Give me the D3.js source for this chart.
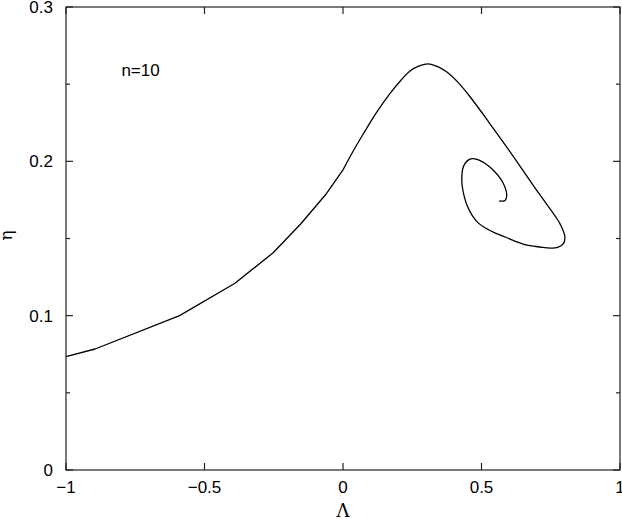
<!DOCTYPE html>
<html>
<head>
<meta charset="utf-8">
<script src="https://cdn.jsdelivr.net/npm/d3@7"></script>
<style>
  body { margin: 0; background: #fff; }
  .tick-label { font-family: "Liberation Sans", Arial, sans-serif; font-size: 17px; fill: #000; }
  .frame { fill: none; stroke: #222; stroke-width: 1.2; }
  .tk { stroke: #222; stroke-width: 1.2; }
</style>
</head>
<body>
<div id="chart"></div>
<script>
// curve values
var lambda = [-1, -0.895, -0.59, -0.39, -0.252, -0.153, -0.06, 0.0,
              0.036, 0.073, 0.12, 0.170, 0.21, 0.242, 0.275, 0.308, 0.34, 0.374, 0.416, 0.458,
              0.530, 0.602, 0.708, 0.768, 0.785, 0.801, 0.795, 0.775, 0.75, 0.72, 0.69, 0.66,
              0.625, 0.588, 0.55, 0.516, 0.49, 0.468, 0.45, 0.438, 0.430, 0.429, 0.432, 0.44,
              0.452, 0.466, 0.48, 0.495, 0.512, 0.528, 0.546, 0.564, 0.578, 0.588, 0.591,
              0.586, 0.576, 0.564];
var eta = [0.0735, 0.0784, 0.1000, 0.1210, 0.1408, 0.1594, 0.1790, 0.1945,
           0.2064, 0.2177, 0.2314, 0.244, 0.2527, 0.2585, 0.2618, 0.2632, 0.2615, 0.258, 0.251, 0.242,
           0.2245, 0.2065, 0.179, 0.164, 0.159, 0.151, 0.1465, 0.1442, 0.1438, 0.1442, 0.1450, 0.1459,
           0.1480, 0.1508, 0.1535, 0.1566, 0.1598, 0.1645, 0.1705, 0.177, 0.1845, 0.190, 0.1950, 0.1985,
           0.2008, 0.2017, 0.2015, 0.2005, 0.1988, 0.1966, 0.1936, 0.190, 0.186, 0.1815, 0.1775,
           0.1748, 0.1742, 0.1743];
var nKinked = 8; // first points joined by straight segments

var xTicks = [-1, -0.5, 0, 0.5, 1];
var xTickLabels = ["\u22121", "\u22120.5", "0", "0.5", "1"];
var yTicks = [0, 0.05, 0.1, 0.15, 0.2, 0.25, 0.3];
var yTickLabels = ["0", "", "0.1", "", "0.2", "", "0.3"];

var margin = {top: 7, right: 2, bottom: 49, left: 66},
    width = 622 - margin.left - margin.right,
    height = 519 - margin.top - margin.bottom;

var svg = d3.select("#chart")
  .append("svg")
    .attr("width", 622)
    .attr("height", 519)
  .append("g")
    .attr("transform", "translate(" + margin.left + "," + margin.top + ")");

var x = d3.scaleLinear().domain([-1, 1]).range([0, width]);
var y = d3.scaleLinear().domain([0, 0.3]).range([height, 0]);

var pts = lambda.map(function(d, i) { return [d, eta[i]]; });

// curve: straight pieces on the left, smooth spiral on the right
var lineLin = d3.line()
  .x(function(d) { return x(d[0]); })
  .y(function(d) { return y(d[1]); });
var lineSmooth = d3.line()
  .curve(d3.curveCatmullRom.alpha(0.5))
  .x(function(d) { return x(d[0]); })
  .y(function(d) { return y(d[1]); });

svg.append("path")
  .attr("d", lineLin(pts.slice(0, nKinked)))
  .attr("fill", "none").attr("stroke", "#000").attr("stroke-width", 1.3)
  .attr("stroke-linejoin", "round");
svg.append("path")
  .attr("d", lineSmooth(pts.slice(nKinked - 1)))
  .attr("fill", "none").attr("stroke", "#000").attr("stroke-width", 1.3);

// frame
svg.append("rect").attr("class", "frame")
  .attr("x", 0).attr("y", 0).attr("width", width).attr("height", height);

// x ticks, bottom and top (inward)
xTicks.forEach(function(t, i) {
  svg.append("line").attr("class", "tk")
    .attr("x1", x(t)).attr("x2", x(t)).attr("y1", height).attr("y2", height - 7);
  svg.append("line").attr("class", "tk")
    .attr("x1", x(t)).attr("x2", x(t)).attr("y1", 0).attr("y2", 7);
  svg.append("text").attr("class", "tick-label")
    .attr("x", x(t)).attr("y", height + 23)
    .attr("text-anchor", "middle")
    .text(xTickLabels[i]);
});

// y ticks, left and right (inward), minor every 0.05
yTicks.forEach(function(t, i) {
  var len = yTickLabels[i] === "" ? 4 : 7;
  svg.append("line").attr("class", "tk")
    .attr("x1", 0).attr("x2", len).attr("y1", y(t)).attr("y2", y(t));
  svg.append("line").attr("class", "tk")
    .attr("x1", width).attr("x2", width - len).attr("y1", y(t)).attr("y2", y(t));
  if (yTickLabels[i] !== "") {
    svg.append("text").attr("class", "tick-label")
      .attr("x", -13).attr("y", y(t) + 6)
      .attr("text-anchor", "end")
      .text(yTickLabels[i]);
  }
});

// axis titles
svg.append("text")
  .attr("x", x(0)).attr("y", height + 47)
  .attr("text-anchor", "middle")
  .style("font-family", "'DejaVu Serif', serif")
  .style("font-size", "18px")
  .text("\u039B");

svg.append("text")
  .attr("transform", "translate(" + (-54) + "," + y(0.152) + ") rotate(-90)")
  .attr("text-anchor", "middle")
  .style("font-family", "'DejaVu Serif', serif")
  .style("font-size", "17px")
  .text("\u03B7");

// label
svg.append("text").attr("class", "tick-label")
  .attr("x", x(-0.8)).attr("y", y(0.255))
  .text("n=10");
</script>
</body>
</html>
